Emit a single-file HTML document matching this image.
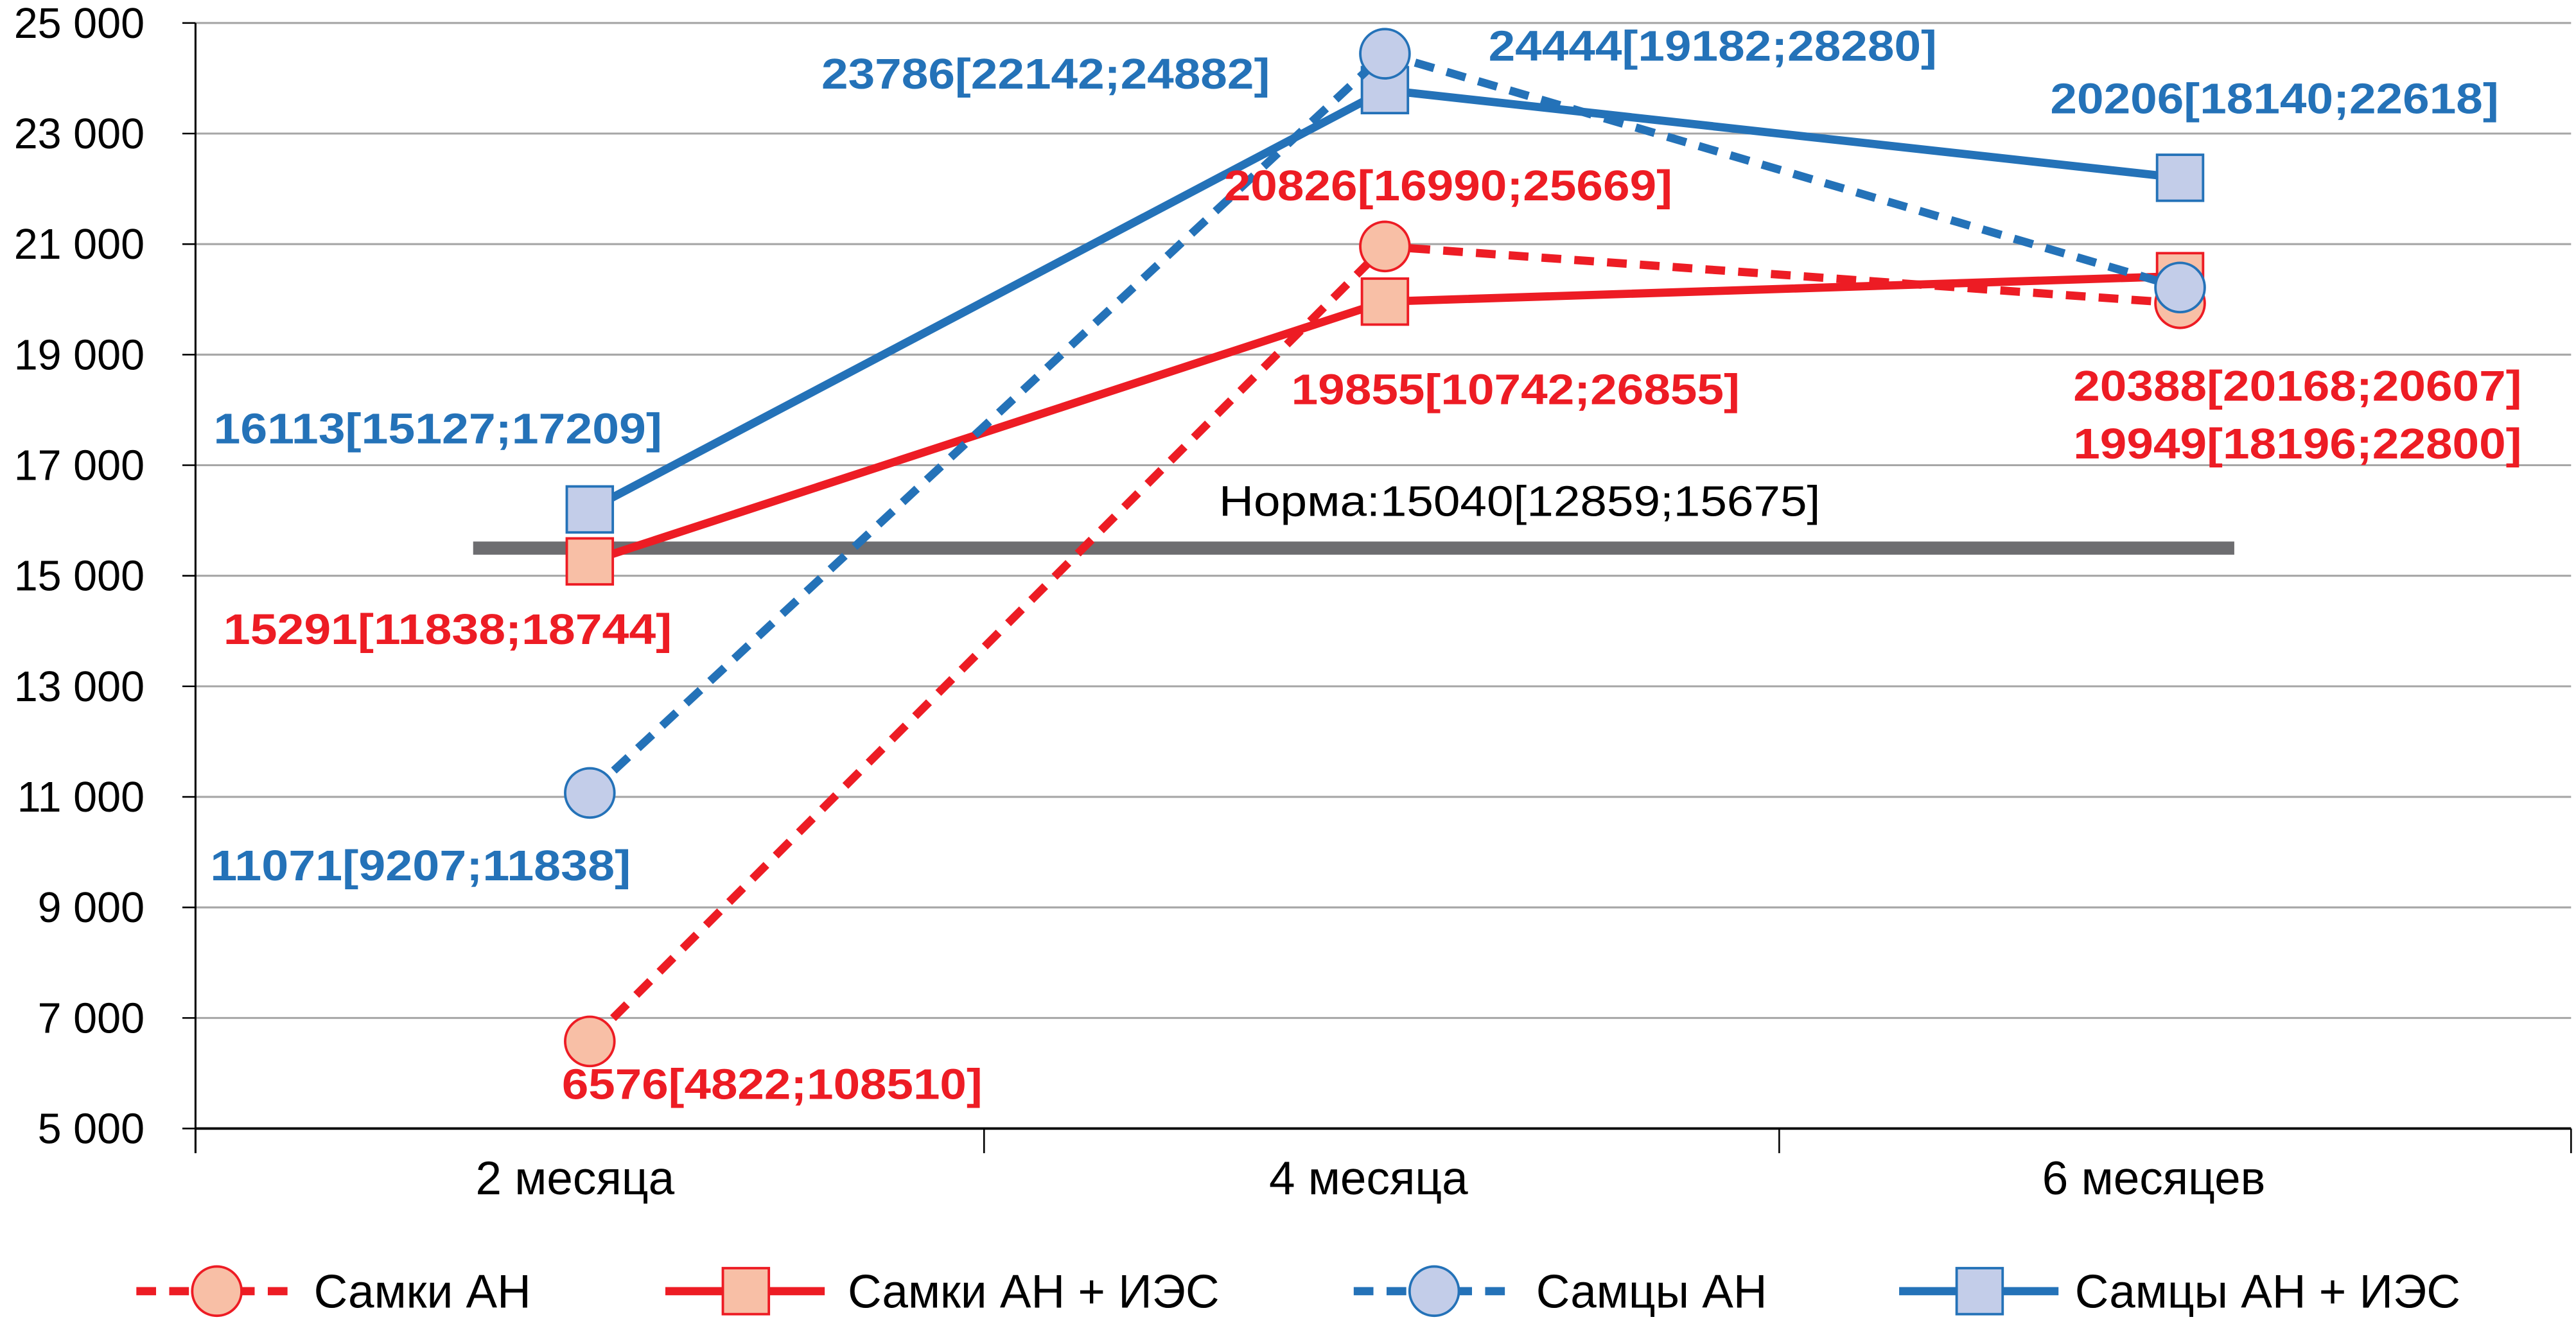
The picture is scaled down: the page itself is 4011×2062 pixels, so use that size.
<!DOCTYPE html>
<html><head><meta charset="utf-8"><style>
html,body{margin:0;padding:0;background:#fff;}
svg{display:block;font-family:"Liberation Sans",sans-serif;}
</style></head><body>
<svg id="chart" width="4011" height="2062" viewBox="0 0 1568 806" preserveAspectRatio="none" xmlns="http://www.w3.org/2000/svg">
<g id="grid"></g>
<g id="axes"></g>
<g id="series"></g>
<g id="labels"></g>
<g id="legend"></g>
</svg>
<script>
const categories = ["2 месяца", "4 месяца", "6 месяцев"];
const yTicks = [5000, 7000, 9000, 11000, 13000, 15000, 17000, 19000, 21000, 23000, 25000];
const yTickLabels = ["5 000","7 000","9 000","11 000","13 000","15 000","17 000","19 000","21 000","23 000","25 000"];
const femalesAN = [6576, 20958, 19930];
const femalesANIES = [15260, 19960, 20420];
const malesAN = [11071, 24444, 20215];
const malesANIES = [16200, 23786, 22200];
const normValue = 15500;
const seriesNames = ["Самки АН", "Самки АН + ИЭС", "Самцы АН", "Самцы АН + ИЭС"];

const NS = "http://www.w3.org/2000/svg";
const plotL = 119, plotR = 1565, yTop = 14, yBot = 687;
const yMin = 5000, yMax = 25000;
function yScale(v){ return yBot - (v - yMin) / (yMax - yMin) * (yBot - yTop); }
const bandW = (plotR - plotL) / categories.length;
function xScale(i){ return plotL + bandW * (i + 0.5) - 1 + i * 2; }
function mk(tag, attrs, parent){ const e = document.createElementNS(NS, tag); for (const k in attrs) e.setAttribute(k, attrs[k]); parent.appendChild(e); return e; }

const grid = document.getElementById('grid');
const axes = document.getElementById('axes');
yTicks.forEach((t, i) => {
  const y = yScale(t);
  if (i > 0) {
    const l = mk('line', {x1: plotL, x2: plotR, y1: y, y2: y, stroke: '#a6a6a6', 'stroke-width': 1.2}, grid);
    
    
  }
  const tk = mk('line', {x1: plotL - 8, x2: plotL, y1: y, y2: y, stroke: '#000', 'stroke-width': 1}, axes);
  
  
  const tx = mk('text', {x: 88, y: y + 9, 'text-anchor': 'end', 'font-size': 26, fill: '#000'}, axes);
  tx.textContent = yTickLabels[i];
  
  
});
const ya = mk('line', {x1: plotL, x2: plotL, y1: yTop, y2: 702, stroke: '#000', 'stroke-width': 1.2}, axes);


const xa = mk('line', {x1: plotL, x2: plotR, y1: yBot, y2: yBot, stroke: '#000', 'stroke-width': 1.5}, axes);


for (let i = 0; i <= categories.length; i++) {
  const x = [119, 599, 1083, 1565][i];
  const t = mk('line', {x1: x, x2: x, y1: yBot, y2: 702, stroke: '#000', 'stroke-width': 1}, axes);
  
  
}
const catX = [350, 833, 1311];
categories.forEach((c, i) => {
  const t = mk('text', {x: catX[i], y: 727, 'text-anchor': 'middle', 'font-size': 28.5, fill: '#000'}, axes);
  t.textContent = c;
  
  
});

const ser = document.getElementById('series');
const norm = mk('line', {x1: 288, x2: 1360, y1: yScale(normValue), y2: yScale(normValue), stroke: '#6d6d70', 'stroke-width': 8}, ser);



const RED = '#ed1c24', BLUE = '#2472b8', RFILL = '#f8bfa6', BFILL = '#c3cde9';
const defs = [
  {vals: femalesAN, color: RED, fill: RFILL, dash: '12 8', marker: 'circle', name: 'series-females-an'},
  {vals: femalesANIES, color: RED, fill: RFILL, dash: null, marker: 'square', name: 'series-females-an-ies'},
  {vals: malesAN, color: BLUE, fill: BFILL, dash: '12 8', marker: 'circle', name: 'series-males-an'},
  {vals: malesANIES, color: BLUE, fill: BFILL, dash: null, marker: 'square', name: 'series-males-an-ies'}
];
const order = [1, 0, 3, 2];
function drawMarker(type, x, y, color, fill, parent){
  let m;
  if (type === 'circle') m = mk('circle', {cx: x, cy: y, r: 15, fill: fill, stroke: color, 'stroke-width': 1.5}, parent);
  else m = mk('rect', {x: x - 14, y: y - 14, width: 28, height: 28, fill: fill, stroke: color, 'stroke-width': 1.5}, parent);
  return m;
}
order.forEach(k => {
  const d = defs[k];
  const g = mk('g', {}, ser);
  
  
  const pts = d.vals.map((v, i) => xScale(i) + ',' + yScale(v)).join(' ');
  const pl = mk('polyline', {points: pts, fill: 'none', stroke: d.color, 'stroke-width': 5}, g);
  if (d.dash) pl.setAttribute('stroke-dasharray', d.dash);
  
  
  d.vals.forEach((v, i) => {
    const m = drawMarker(d.marker, xScale(i), yScale(v), d.color, d.fill, g);
    
    
  });
});

const labelTexts = ["23786[22142;24882]","24444[19182;28280]","20206[18140;22618]","20826[16990;25669]","19855[10742;26855]","20388[20168;20607]","19949[18196;22800]","16113[15127;17209]","15291[11838;18744]","11071[9207;11838]","6576[4822;108510]","Норма:15040[12859;15675]"];
const labelColors = ['b','b','b','r','r','r','r','b','r','b','r','k'];
const labelX = [500,906,1248,745,786,1262,1262,130,136,128,342,742];
const labelY = [54,37,69,122,246,244,279,270,392,536,669,314];
const lg = document.getElementById('labels');
labelTexts.forEach((t, i) => {
  const c = labelColors[i];
  const el = mk('text', {x: labelX[i], y: labelY[i], 'font-size': 26, 'font-weight': c === 'k' ? 'normal' : 'bold',
    fill: c === 'b' ? BLUE : c === 'r' ? RED : '#000'}, lg);
  el.textContent = t;
  el.setAttribute('textLength', c === 'k' ? 366 : (t.length === 17 ? 256 : 273));
  el.setAttribute('lengthAdjust', 'spacingAndGlyphs');
  
  
});

const leg = document.getElementById('legend');
const legX = [83, 405, 824, 1156];
const legTextX = [191, 516, 935, 1263];
defs.forEach((d, i) => {
  const g = mk('g', {}, leg);
  
  
  const ln = mk('line', {x1: legX[i], x2: legX[i] + 97, y1: 786, y2: 786, stroke: d.color, 'stroke-width': 5}, g);
  if (d.dash) ln.setAttribute('stroke-dasharray', '12 8');
  
  
  const m = drawMarker(d.marker, legX[i] + 49, 786, d.color, d.fill, g);
  
  
  const t = mk('text', {x: legTextX[i], y: 796, 'font-size': 28.5, fill: '#000'}, g);
  t.textContent = seriesNames[i];
  
  
});
</script>
</body></html>
